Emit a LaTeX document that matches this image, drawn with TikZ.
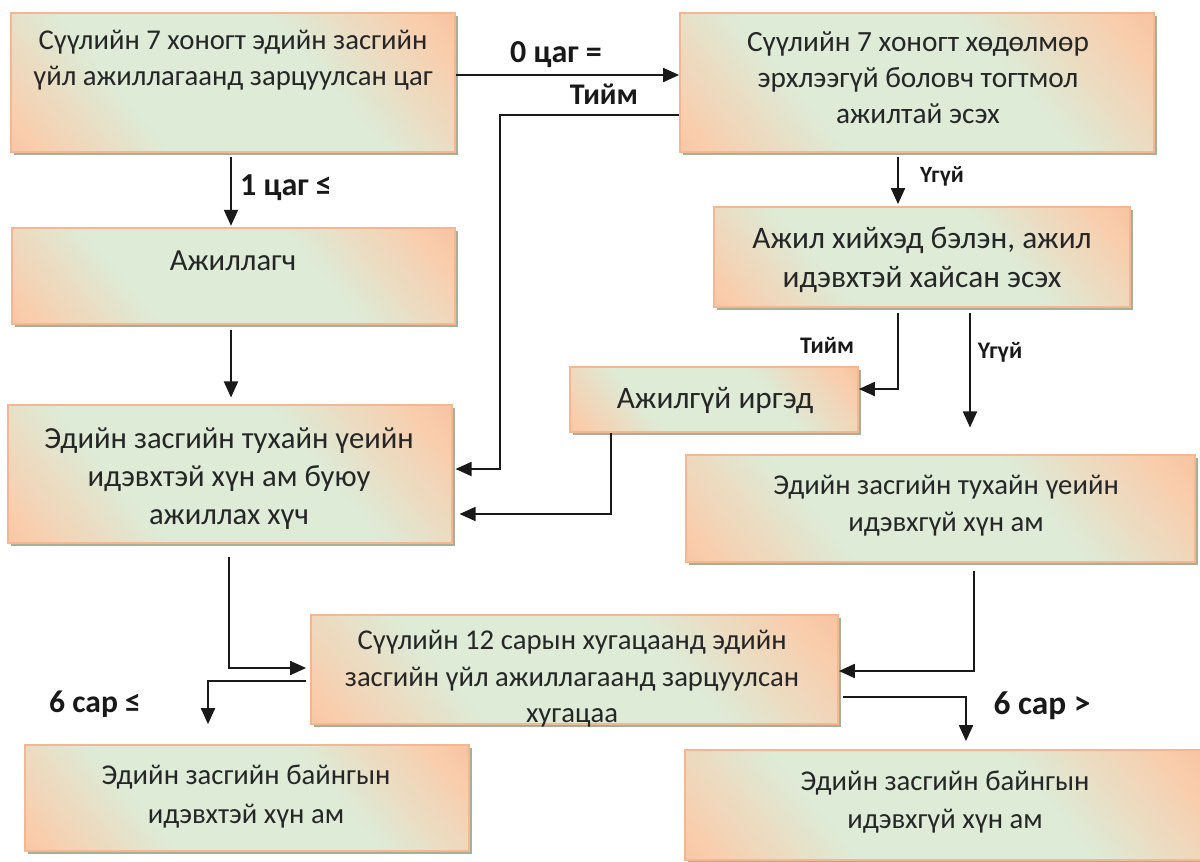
\documentclass[tikz,border=0pt]{standalone}
\usepackage{fontspec}
\setmainfont{Carlito}
\usetikzlibrary{shadows,arrows.meta}
\definecolor{boxline}{HTML}{F6B692}
\definecolor{shadowc}{HTML}{A2B299}
\definecolor{orA}{HTML}{F4A881}
\definecolor{orB}{HTML}{F9CDAC}
\definecolor{grA}{HTML}{DDEBD7}
\pgfdeclarehorizontalshading{peach}{100bp}{color(0bp)=(orA); color(18bp)=(orB); color(35bp)=(grA); color(50bp)=(grA); color(62bp)=(grA); color(80bp)=(orB); color(100bp)=(orA)}
\tikzset{
  box/.style={rectangle, draw=boxline, line width=1.3pt, shading=peach, shading angle=40,
    drop shadow={shadow xshift=2.5pt, shadow yshift=-2.5pt, fill=shadowc, opacity=1}, inner sep=0pt},
  txt/.style={align=center, inner sep=0pt, text=black!85},
  lbl/.style={inner sep=0pt, text=black!90},
  arr/.style={-{Triangle[length=12pt,width=10.5pt]}, line width=1.4pt, black!90}
}
\newcommand\mybox[5]{%
  \node[box, minimum width={(#4-#2)*0.75pt}, minimum height={(#5-#3)*0.75pt}] (#1) at ({(#2+#4)/2},{(#3+#5)/2}) {};}
\newcommand\fs[2]{\fontsize{#1}{#2}\selectfont}
\begin{document}
\begin{tikzpicture}[x=0.75pt,y=-0.75pt]
\useasboundingbox (0,0) rectangle (1200,861);
% boxes
\mybox{A}{11}{13}{455}{152}
\mybox{B}{680}{13}{1154}{152}
\mybox{W}{12}{228}{455}{324}
\mybox{C}{714}{207}{1130}{307}
\mybox{N}{570}{367}{858}{432}
\mybox{D}{8}{405}{452}{543}
\mybox{E}{686}{455}{1195}{562}
\mybox{F}{311}{615}{838}{724}
\mybox{G}{25}{745}{469}{851}
\mybox{H}{685}{750}{1206}{860}
% texts
\node[txt, anchor=north, font=\fs{21.5}{27}] (At) at (233,30) {Сүүлийн 7 хоногт эдийн засгийн\\үйл ажиллагаанд зарцуулсан цаг};
\node[txt, anchor=north, font=\fs{22}{27}] (Bt) at (918,31) {Сүүлийн 7 хоногт хөдөлмөр\\эрхлээгүй боловч тогтмол\\ажилтай эсэх};
\node[txt, anchor=north, font=\fs{23}{28}] (Wt) at (233,251) {Ажиллагч};
\node[txt, anchor=north, font=\fs{23.5}{29}] (Ct) at (922,227) {Ажил хийхэд бэлэн, ажил\\идэвхтэй хайсан эсэх};
\node[txt, font=\fs{23.5}{28}] (Nt) at (715,400) {Ажилгүй иргэд};
\node[txt, anchor=north, font=\fs{23}{28.5}] (Dt) at (229,428) {Эдийн засгийн тухайн үеийн\\идэвхтэй хүн ам буюу\\ажиллах хүч};
\node[txt, anchor=north, font=\fs{21.5}{28}] (Et) at (946,475) {Эдийн засгийн тухайн үеийн\\идэвхгүй хүн ам};
\node[txt, anchor=north, font=\fs{21.5}{27.5}] (Ft) at (572,630) {Сүүлийн 12 сарын хугацаанд эдийн\\засгийн үйл ажиллагаанд зарцуулсан\\хугацаа};
\node[txt, anchor=north, font=\fs{21.5}{29}] (Gt) at (246,765) {Эдийн засгийн байнгын\\идэвхтэй хүн ам};
\node[txt, anchor=north, font=\fs{21.5}{28}] (Ht) at (945,771) {Эдийн засгийн байнгын\\идэвхгүй хүн ам};
% labels
\node[lbl, font=\bfseries\fs{24}{28}] (l0) at (556,55) {0 цаг =};
\node[lbl, font=\bfseries\fs{22.5}{26}] (lt1) at (604,94) {Тийм};
\node[lbl, font=\bfseries\fs{17.5}{20}] (lu1) at (942,176) {Үгүй};
\node[lbl, font=\bfseries\fs{24}{28}] (l1) at (286,188) {1 цаг ≤};
\node[lbl, font=\bfseries\fs{17.8}{20}] (lt2) at (827,345) {Тийм};
\node[lbl, font=\bfseries\fs{17.8}{20}] (lu2) at (1000,352) {Үгүй};
\node[lbl, font=\bfseries\fs{23.7}{28}] (l6a) at (95,704) {6 сар ≤};
\node[lbl, font=\bfseries\fs{25}{28}] (l6b) at (1042,706) {6 сар >};
% helper coordinates
\coordinate (yab) at (0,75);
\coordinate (b1) at (500,115);
\coordinate (in1) at (0,469);
\coordinate (n1) at (611,514);
\coordinate (xbc) at (898,0);
\coordinate (cn) at (898,389);
\coordinate (xce) at (970,0);
\coordinate (xaw) at (231,0);
\coordinate (df) at (229,668);
\coordinate (ef) at (974,671);
\coordinate (fg) at (208,681);
\coordinate (fh) at (966,697);
% connectors
\draw[arr] (A.east |- yab) -- (B.west |- yab);
\draw[arr, shorten >=2pt] (B.west |- b1) -- (b1) -- (b1 |- in1) -- (D.east |- in1);
\draw[arr, shorten >=5pt] (N.south -| n1) -- (n1) -- (D.east |- n1);
\draw[arr, shorten <=3pt, shorten >=1.5pt] (B.south -| xbc) -- (C.north -| xbc);
\draw[arr, shorten <=4pt] (C.south -| cn) -- (cn) -- (N.east |- cn);
\draw[arr, shorten <=4pt, shorten >=20pt] (C.south -| xce) -- (E.north -| xce);
\draw[arr, shorten <=3pt, shorten >=1pt] (A.south -| xaw) -- (W.north -| xaw);
\draw[arr, shorten <=4pt, shorten >=5pt] (W.south -| xaw) -- (D.north -| xaw);
\draw[arr, shorten <=10pt, shorten >=3pt] (D.south -| df) -- (df) -- (F.west |- df);
\draw[arr, shorten <=6pt] (E.south -| ef) -- (ef) -- (F.east |- ef);
\draw[arr, shorten <=3pt, shorten >=15pt] (F.west |- fg) -- (fg) -- (G.north -| fg);
\draw[arr, shorten <=3pt, shorten >=6pt] (F.east |- fh) -- (fh) -- (H.north -| fh);
\end{tikzpicture}
\end{document}
